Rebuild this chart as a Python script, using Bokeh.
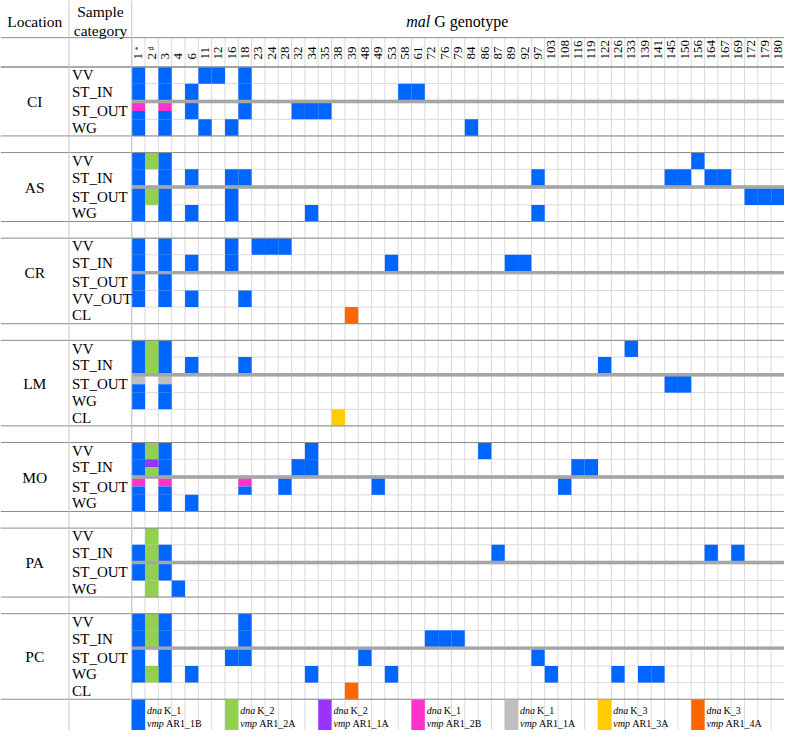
import numpy as np
from bokeh.plotting import figure
from bokeh.models import Range1d, ColumnDataSource
from bokeh.embed import file_html
from bokeh.resources import INLINE
from bokeh.core.properties import value

# ---------------- data ----------------
genotypes = ["1", "2", "3", "4", "6", "11", "12", "16", "18", "23", "24", "28", "32", "34", "35",
             "38", "39", "48", "49", "53", "58", "61", "72", "76", "79", "84", "86", "87", "89",
             "92", "97", "103", "108", "116", "119", "122", "126", "133", "139", "141", "145",
             "150", "156", "164", "167", "169", "172", "179", "180"]
genotype_marks = {"1": "*", "2": "#"}

locations = ["CI", "AS", "CR", "LM", "MO", "PA", "PC"]
categories = {
    "CI": ["VV", "ST_IN", "ST_OUT", "WG"],
    "AS": ["VV", "ST_IN", "ST_OUT", "WG"],
    "CR": ["VV", "ST_IN", "ST_OUT", "VV_OUT", "CL"],
    "LM": ["VV", "ST_IN", "ST_OUT", "WG", "CL"],
    "MO": ["VV", "ST_IN", "ST_OUT", "WG"],
    "PA": ["VV", "ST_IN", "ST_OUT", "WG"],
    "PC": ["VV", "ST_IN", "ST_OUT", "WG", "CL"],
}
location_label_rows = {"CR": 4}   # CR label centred on its first four rows

type_keys = ["K1_1B", "K2_2A", "K2_1A", "K1_2B", "K1_1A", "K3_3A", "K3_4A"]
type_colors = ["#0066ff", "#92d050", "#9933ff", "#ff33cc", "#bfbfbf", "#ffcc00", "#ff6600"]
type_dna = ["K_1", "K_2", "K_2", "K_1", "K_1", "K_3", "K_3"]
type_vmp = ["AR1_1B", "AR1_2A", "AR1_1A", "AR1_2B", "AR1_1A", "AR1_3A", "AR1_4A"]

# (location, category, type, part of cell, genotypes)
cells = [
    ("CI", "VV", "K1_1B", "full", ["1", "3", "11", "12", "18"]),
    ("CI", "ST_IN", "K1_1B", "full", ["1", "3", "6", "18", "58", "61"]),
    ("CI", "ST_OUT", "K1_1B", "full", ["6", "18", "32", "34", "35"]),
    ("CI", "ST_OUT", "K1_2B", "top", ["1", "3"]),
    ("CI", "ST_OUT", "K1_1B", "bottom", ["1", "3"]),
    ("CI", "WG", "K1_1B", "full", ["1", "3", "11", "16", "84"]),
    ("AS", "VV", "K1_1B", "full", ["1", "3", "156"]),
    ("AS", "VV", "K2_2A", "full", ["2"]),
    ("AS", "ST_IN", "K1_1B", "full", ["1", "3", "6", "16", "18", "97", "145", "150", "164", "167"]),
    ("AS", "ST_OUT", "K1_1B", "full", ["1", "3", "16", "172", "179", "180"]),
    ("AS", "ST_OUT", "K2_2A", "full", ["2"]),
    ("AS", "WG", "K1_1B", "full", ["1", "3", "6", "16", "34", "97"]),
    ("CR", "VV", "K1_1B", "full", ["1", "3", "16", "23", "24", "28"]),
    ("CR", "ST_IN", "K1_1B", "full", ["1", "3", "6", "16", "53", "89", "92"]),
    ("CR", "ST_OUT", "K1_1B", "full", ["1", "3"]),
    ("CR", "VV_OUT", "K1_1B", "full", ["1", "3", "6", "18"]),
    ("CR", "CL", "K3_4A", "full", ["39"]),
    ("LM", "VV", "K1_1B", "full", ["1", "3", "133"]),
    ("LM", "VV", "K2_2A", "full", ["2"]),
    ("LM", "ST_IN", "K1_1B", "full", ["1", "3", "6", "18", "122"]),
    ("LM", "ST_IN", "K2_2A", "full", ["2"]),
    ("LM", "ST_OUT", "K1_1B", "full", ["145", "150"]),
    ("LM", "ST_OUT", "K1_1A", "top", ["1", "3"]),
    ("LM", "ST_OUT", "K1_1B", "bottom", ["1", "3"]),
    ("LM", "WG", "K1_1B", "full", ["1", "3"]),
    ("LM", "CL", "K3_3A", "full", ["38"]),
    ("MO", "VV", "K1_1B", "full", ["1", "3", "34", "86"]),
    ("MO", "VV", "K2_2A", "full", ["2"]),
    ("MO", "ST_IN", "K1_1B", "full", ["1", "3", "32", "34", "116", "119"]),
    ("MO", "ST_IN", "K2_1A", "top", ["2"]),
    ("MO", "ST_IN", "K2_2A", "bottom", ["2"]),
    ("MO", "ST_OUT", "K1_1B", "full", ["28", "49", "108"]),
    ("MO", "ST_OUT", "K1_2B", "top", ["1", "3", "18"]),
    ("MO", "ST_OUT", "K1_1B", "bottom", ["1", "3", "18"]),
    ("MO", "WG", "K1_1B", "full", ["1", "3", "6"]),
    ("PA", "VV", "K2_2A", "full", ["2"]),
    ("PA", "ST_IN", "K1_1B", "full", ["1", "3", "87", "164", "169"]),
    ("PA", "ST_IN", "K2_2A", "full", ["2"]),
    ("PA", "ST_OUT", "K1_1B", "full", ["1", "3"]),
    ("PA", "ST_OUT", "K2_2A", "full", ["2"]),
    ("PA", "WG", "K2_2A", "full", ["2"]),
    ("PA", "WG", "K1_1B", "full", ["4"]),
    ("PC", "VV", "K1_1B", "full", ["1", "3", "18"]),
    ("PC", "VV", "K2_2A", "full", ["2"]),
    ("PC", "ST_IN", "K1_1B", "full", ["1", "3", "18", "72", "76", "79"]),
    ("PC", "ST_IN", "K2_2A", "full", ["2"]),
    ("PC", "ST_OUT", "K1_1B", "full", ["1", "3", "16", "18", "48", "97"]),
    ("PC", "WG", "K1_1B", "full", ["1", "3", "6", "34", "53", "103", "126", "139", "141"]),
    ("PC", "WG", "K2_2A", "full", ["2"]),
    ("PC", "CL", "K3_4A", "full", ["39"]),
]

# ---------------- layout (units: x = one genotype column, y = one row) ----------------
NCOL = len(genotypes)
X_LEFT = -9.853          # label area to the left of the grid
X_LOC_DIV = -4.706       # divider between Location and Sample category
X_LOC = -7.28
X_CAT = -4.49
Y_HEAD_LINE = 2.235
Y_GRID_TOP = 4.0
SEP = 0.147
LEGEND_H = 1.88
FONT = value("Liberation Serif")

row_pos = {}
separators = []
blocks = []
y = Y_GRID_TOP
for i, loc in enumerate(locations):
    if i > 0:
        y += 1.0
    top = y
    for cat in categories[loc]:
        row_pos[(loc, cat)] = (y, y + 1.0)
        y += 1.0
        if cat == "ST_IN":
            separators.append((y, y + SEP))
            y += SEP
    blocks.append((loc, top, y))
Y_GRID_BOTTOM = y
Y_END = Y_GRID_BOTTOM + LEGEND_H

p = figure(width=784, height=730, output_backend="svg", toolbar_location=None,
           x_range=Range1d(X_LEFT, NCOL), y_range=Range1d(Y_END, 0),
           x_axis_location=None, y_axis_location=None, min_border=0)
p.xgrid.visible = False
p.ygrid.visible = False
p.outline_line_color = None
p.background_fill_color = "white"

# light grid
vx = list(range(NCOL + 1))
p.segment(x0=vx, y0=[Y_HEAD_LINE] * len(vx), x1=vx, y1=[Y_END] * len(vx),
          line_color="#dadada", line_width=1)
hy = sorted(set([v for tb in row_pos.values() for v in tb]))
p.segment(x0=[0] * len(hy), y0=hy, x1=[NCOL] * len(hy), y1=hy,
          line_color="#dadada", line_width=1)

# cells
cx0, cx1, cy0, cy1, cc = [], [], [], [], []
for loc, cat, t, part, gs in cells:
    top, bot = row_pos[(loc, cat)]
    mid = (top + bot) / 2
    if part == "top":
        bot = mid
    elif part == "bottom":
        top = mid
    for g in gs:
        k = genotypes.index(g)
        cx0.append(k); cx1.append(k + 1); cy0.append(top); cy1.append(bot)
        cc.append(type_colors[type_keys.index(t)])
p.quad(left=cx0, right=cx1, top=cy0, bottom=cy1, fill_color=cc, line_color=None)

# thick separators between ST_IN and ST_OUT
p.quad(left=[0] * len(separators), right=[NCOL] * len(separators),
       top=[s[0] - 0.03 for s in separators], bottom=[s[1] + 0.03 for s in separators],
       fill_color="#a6a6a6", line_color=None)

# block lines
by = [Y_HEAD_LINE, Y_GRID_TOP] + [b[1] for b in blocks] + [b[2] for b in blocks]
p.segment(x0=[X_LEFT] * len(by), y0=by, x1=[NCOL] * len(by), y1=by,
          line_color="#8c8c8c", line_width=1)
p.segment(x0=[X_LOC_DIV, 0], y0=[0, 0], x1=[X_LOC_DIV, 0], y1=[Y_END, Y_END],
          line_color="#c4c4c4", line_width=1)

# legend swatches
lx = [7 * i for i in range(len(type_keys))]
p.quad(left=lx, right=[v + 1 for v in lx], top=[Y_GRID_BOTTOM + 0.03] * len(lx),
       bottom=[Y_END] * len(lx), fill_color=type_colors, line_color=None)
ly1 = Y_GRID_BOTTOM + 0.70
ly2 = Y_GRID_BOTTOM + 1.47
p.text(x=[v + 1 for v in lx], y=[ly1] * len(lx), text=["dna"] * len(lx), x_offset=2,
       text_font=FONT, text_font_style="italic", text_font_size=value("10px"),
       text_baseline="middle", text_align="left", text_color="black")
p.text(x=[v + 1 for v in lx], y=[ly1] * len(lx), text=type_dna, x_offset=19,
       text_font=FONT, text_font_size=value("10px"),
       text_baseline="middle", text_align="left", text_color="black")
p.text(x=[v + 1 for v in lx], y=[ly2] * len(lx), text=["vmp"] * len(lx), x_offset=2,
       text_font=FONT, text_font_style="italic", text_font_size=value("10px"),
       text_baseline="middle", text_align="left", text_color="black")
p.text(x=[v + 1 for v in lx], y=[ly2] * len(lx), text=type_vmp, x_offset=21,
       text_font=FONT, text_font_size=value("10px"),
       text_baseline="middle", text_align="left", text_color="black")

# header texts
p.text(x=[X_LOC], y=[1.235], text=["Location"], text_font=FONT, text_font_size=value("15.5px"),
       text_align="center", text_baseline="middle", text_color="black")
p.text(x=[-2.35, -2.35], y=[0.68, 1.83], text=["Sample", "category"], text_font=FONT,
       text_font_size=value("15.5px"), text_align="center", text_baseline="middle",
       text_color="black")
p.text(x=[20.6], y=[1.235], text=["mal"], text_font=FONT, text_font_style="italic",
       text_font_size=value("16px"), text_align="left", text_baseline="middle", text_color="black")
p.text(x=[20.6], y=[1.235], text=["G genotype"], text_font=FONT, x_offset=28,
       text_font_size=value("16px"), text_align="left", text_baseline="middle", text_color="black")

# column (genotype) labels, rotated
gx = [k + 0.5 for k in range(NCOL)]
p.text(x=gx, y=[3.55] * NCOL, text=genotypes, angle=np.pi / 2, text_font=FONT,
       text_font_size=value("13px"), text_align="left", text_baseline="middle",
       text_color="black")
mk = list(genotype_marks.keys())
p.text(x=[genotypes.index(g) + 0.5 for g in mk], y=[3.0] * len(mk),
       text=[genotype_marks[g] for g in mk], angle=np.pi / 2, text_font=FONT,
       text_font_size=value("8px"), text_align="left", text_baseline="middle",
       text_color="black")

# row labels and location labels
rl_y, rl_t = [], []
for (loc, cat), (t, b) in row_pos.items():
    rl_y.append((t + b) / 2); rl_t.append(cat)
p.text(x=[X_CAT] * len(rl_y), y=rl_y, text=rl_t, text_font=FONT, text_font_size=value("15px"),
       text_align="left", text_baseline="middle", text_color="black")
loc_y = []
for loc, top, bot in blocks:
    n = location_label_rows.get(loc)
    if n:
        bot = row_pos[(loc, categories[loc][n - 1])][1]
    loc_y.append((top + bot) / 2)
p.text(x=[X_LOC] * len(blocks), y=loc_y, text=[b[0] for b in blocks], text_font=FONT,
       text_font_size=value("15.5px"), text_align="center", text_baseline="middle",
       text_color="black")

open("out.html", "w").write(file_html(p, INLINE))
